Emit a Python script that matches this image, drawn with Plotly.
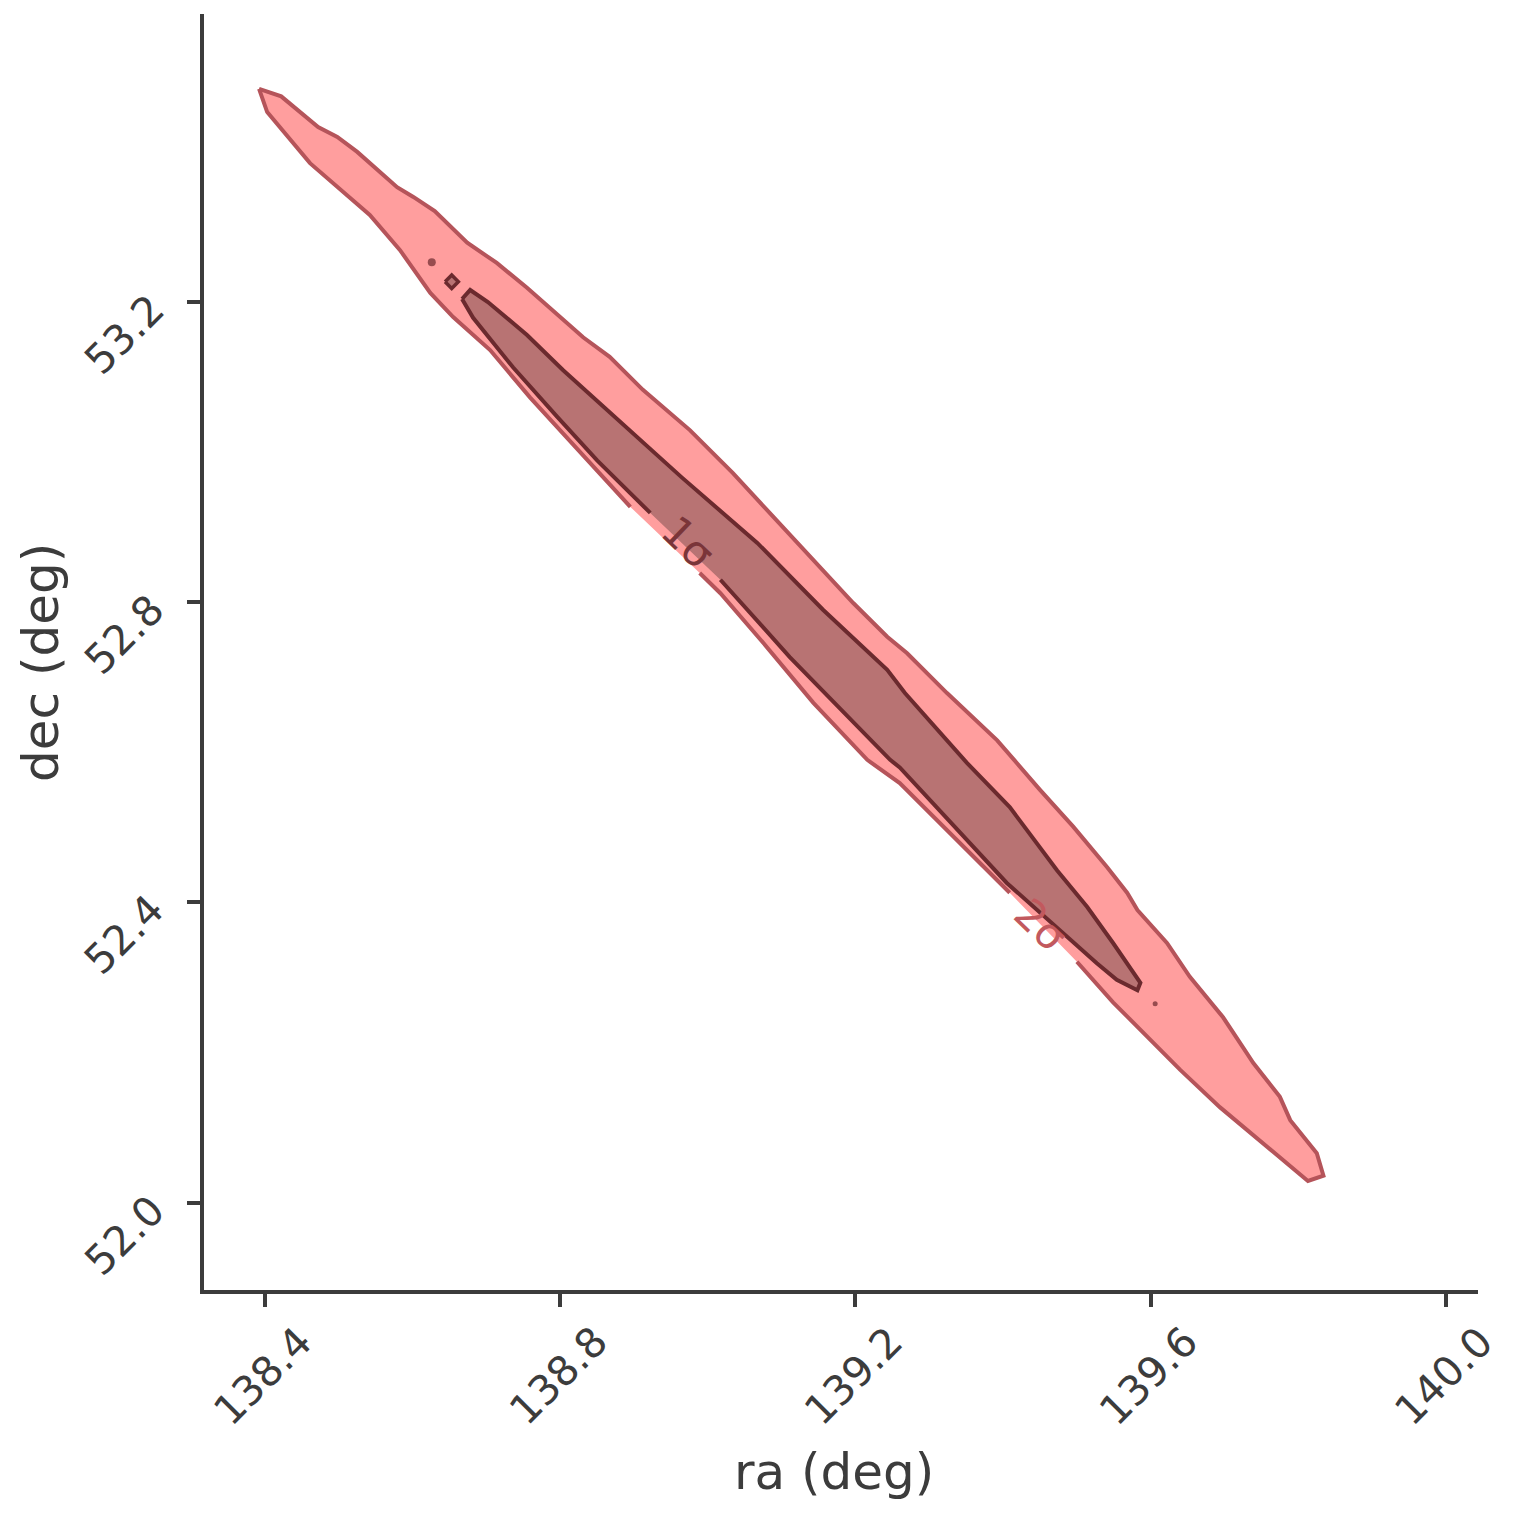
import plotly.graph_objects as go

# ---------------- data (ra, dec in degrees) ----------------
OUTER_RA = [138.392, 138.422, 138.472, 138.498, 138.525, 138.579, 138.601, 138.630, 138.674, 138.714,
            138.755, 138.831, 138.867, 138.912, 138.976, 139.034, 139.080, 139.152, 139.197, 139.243,
            139.270, 139.324, 139.392, 139.450, 139.495, 139.541, 139.568, 139.582, 139.622, 139.653,
            139.698, 139.725, 139.739, 139.775, 139.789, 139.825, 139.834, 139.813,
            139.752, 139.694, 139.640, 139.595, 139.549, 139.500, 139.409, 139.335, 139.260, 139.216,
            139.143, 139.075, 139.017, 138.989,
            138.895, 138.858, 138.813, 138.759, 138.705, 138.655, 138.624, 138.583, 138.542, 138.488,
            138.461, 138.403]
OUTER_DEC = [53.484, 53.474, 53.433, 53.420, 53.400, 53.353, 53.340, 53.321, 53.279, 53.252,
             53.219, 53.153, 53.127, 53.083, 53.029, 52.972, 52.923, 52.847, 52.799, 52.754,
             52.732, 52.679, 52.616, 52.550, 52.501, 52.447, 52.413, 52.390, 52.346, 52.301,
             52.247, 52.207, 52.186, 52.141, 52.110, 52.066, 52.036, 52.029,
             52.080, 52.127, 52.177, 52.221, 52.267, 52.321, 52.413, 52.486, 52.559, 52.590,
             52.666, 52.746, 52.812, 52.839,
             52.927, 52.967, 53.016, 53.073, 53.136, 53.180, 53.212, 53.269, 53.316, 53.363,
             53.385, 53.453]

INNER_RA = [138.667, 138.678, 138.702, 138.755, 138.804, 138.867, 138.918, 138.965, 139.067, 139.156,
            139.243, 139.267, 139.351, 139.409, 139.473, 139.514, 139.549, 139.586, 139.582, 139.554,
            139.527, 139.487, 139.405, 139.260, 139.247, 139.111, 139.017, 138.922, 138.850, 138.796,
            138.736, 138.682]
INNER_DEC = [53.204, 53.216, 53.200, 53.156, 53.109, 53.053, 53.009, 52.966, 52.879, 52.790,
             52.710, 52.679, 52.586, 52.527, 52.443, 52.394, 52.346, 52.293, 52.283, 52.297,
             52.319, 52.354, 52.426, 52.580, 52.590, 52.727, 52.830, 52.919, 52.989, 53.047,
             53.113, 53.179]

# small 1-sigma islands
ISLAND_RA = [138.644, 138.653, 138.662, 138.653]
ISLAND_DEC = [53.227, 53.236, 53.227, 53.218]
DOT_RA = [138.626, 139.606]
DOT_DEC = [53.253, 52.265]

LABEL_TEXT = ["1σ", "2σ"]
LABEL_RA = [138.973, 139.450]
LABEL_DEC = [52.879, 52.370]

X_TICKS = [138.4, 138.8, 139.2, 139.6, 140.0]
Y_TICKS = [52.0, 52.4, 52.8, 53.2]
X_RANGE = [138.3174, 140.0434]
Y_RANGE = [51.8837, 53.5837]

# ---------------- styling ----------------
OUTER_FILL = "#FF9E9E"
OUTER_LINE = "#B5545A"
INNER_FILL = "#B87373"
INNER_LINE = "#6B2A2E"
LABEL_COL = ["#7A3539", "#C2595E"]
AX_COL = "#3C3C3C"
FONT = "DejaVu Sans"
PX_X, PX_Y = 738.0, 750.6   # approx pixels per degree, used for label gaps


def outline(ra, dec, label_ids, gap=30):
    """Closed contour outline, broken where an inline label sits."""
    xs, ys = [], []
    n = len(ra)
    for i in range(n):
        j = (i + 1) % n
        mx, my = (ra[i] + ra[j]) / 2, (dec[i] + dec[j]) / 2
        cut = any(((mx - LABEL_RA[k]) * PX_X) ** 2 + ((my - LABEL_DEC[k]) * PX_Y) ** 2 < gap ** 2
                  for k in label_ids)
        if cut:
            xs += [ra[i], None]
            ys += [dec[i], None]
        else:
            xs += [ra[i], ra[j]]
            ys += [dec[i], dec[j]]
    return xs, ys


fig = go.Figure()

fig.add_trace(go.Scatter(x=OUTER_RA + OUTER_RA[:1], y=OUTER_DEC + OUTER_DEC[:1], fill="toself",
                         fillcolor=OUTER_FILL, mode="lines", line=dict(width=0), hoverinfo="skip",
                         showlegend=False))
fig.add_trace(go.Scatter(x=INNER_RA + INNER_RA[:1], y=INNER_DEC + INNER_DEC[:1], fill="toself",
                         fillcolor=INNER_FILL, mode="lines", line=dict(width=0), hoverinfo="skip",
                         showlegend=False))
fig.add_trace(go.Scatter(x=ISLAND_RA + ISLAND_RA[:1], y=ISLAND_DEC + ISLAND_DEC[:1], fill="toself",
                         fillcolor=INNER_FILL, mode="lines", line=dict(width=3.5, color=INNER_LINE),
                         hoverinfo="skip", showlegend=False))

ox, oy = outline(OUTER_RA, OUTER_DEC, [0, 1])
fig.add_trace(go.Scatter(x=ox, y=oy, mode="lines", line=dict(width=4, color=OUTER_LINE),
                         hoverinfo="skip", showlegend=False))
ix, iy = outline(INNER_RA, INNER_DEC, [0])
fig.add_trace(go.Scatter(x=ix, y=iy, mode="lines", line=dict(width=4, color=INNER_LINE),
                         hoverinfo="skip", showlegend=False))
fig.add_trace(go.Scatter(x=DOT_RA, y=DOT_DEC, mode="markers",
                         marker=dict(size=[8, 5], color=INNER_LINE, line=dict(width=0)),
                         hoverinfo="skip", showlegend=False))

annotations = []
for t, x, y, c in zip(LABEL_TEXT, LABEL_RA, LABEL_DEC, LABEL_COL):
    annotations.append(dict(x=x, y=y, xref="x", yref="y", text=t, showarrow=False, textangle=44,
                            font=dict(family=FONT, size=42, color=c), xanchor="center",
                            yanchor="middle"))
for v in X_TICKS:
    annotations.append(dict(x=v, y=0, xref="x", yref="paper", text=f"{v:.1f}",
                            showarrow=False, textangle=-45, yshift=-86, xshift=-2,
                            xanchor="center", yanchor="middle",
                            font=dict(family=FONT, size=41, color=AX_COL)))
for v in Y_TICKS:
    annotations.append(dict(x=0, y=v, xref="paper", yref="y", text=f"{v:.1f}", showarrow=False,
                            textangle=-45, xshift=-80, yshift=-33, xanchor="center", yanchor="middle",
                            font=dict(family=FONT, size=41, color=AX_COL)))
annotations.append(dict(x=0.5, y=0, xref="paper", yref="paper", text="ra (deg)", showarrow=False,
                        xshift=-7, yshift=-182, xanchor="center", yanchor="middle",
                        font=dict(family=FONT, size=50, color=AX_COL)))
annotations.append(dict(x=0, y=0.5, xref="paper", yref="paper", text="dec (deg)", showarrow=False,
                        textangle=-90, xshift=-163, yshift=-11, xanchor="center", yanchor="middle",
                        font=dict(family=FONT, size=50, color=AX_COL)))

axis_common = dict(showgrid=False, zeroline=False, showline=True, linewidth=3.5, linecolor=AX_COL,
                   ticks="outside", ticklen=13, tickwidth=3.5, tickcolor=AX_COL,
                   showticklabels=False)
fig.update_xaxes(range=X_RANGE, tickvals=X_TICKS, **axis_common)
fig.update_yaxes(range=Y_RANGE, tickvals=Y_TICKS, **axis_common)

# the page body adds an 8px offset, so margins are shifted to compensate
fig.update_layout(width=1517, height=1513, autosize=False,
                  margin=dict(l=196, r=47, t=6, b=231),
                  plot_bgcolor="white", paper_bgcolor="white",
                  annotations=annotations, font=dict(family=FONT))

fig.write_html("out.html")
